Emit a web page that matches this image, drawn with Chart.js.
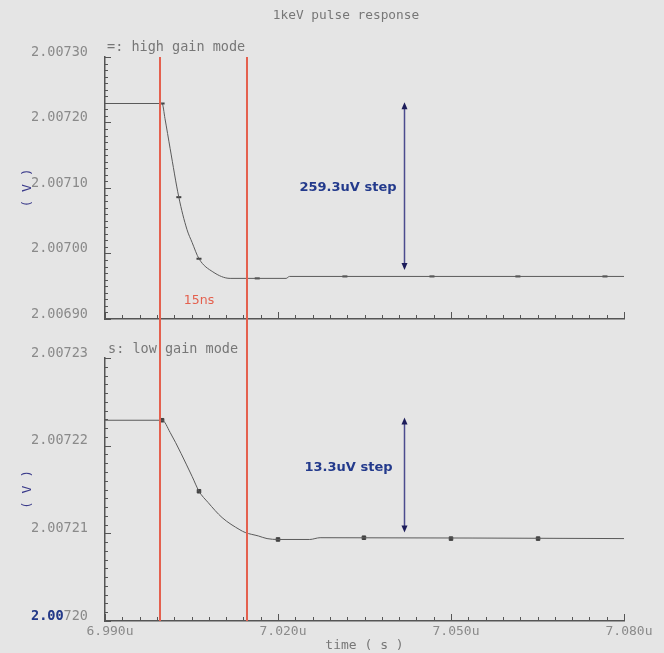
<!DOCTYPE html>
<html>
<head>
<meta charset="utf-8">
<script src="https://cdn.jsdelivr.net/npm/chart.js@4.4.1/dist/chart.umd.min.js"></script>
<style>
  html, body { margin: 0; padding: 0; background: #e5e5e5; }
  #wrap { position: relative; width: 664px; height: 653px; overflow: hidden; }
  canvas { position: absolute; left: 0; }
  #top { top: 0; }
  #bottom { top: 338px; }
</style>
</head>
<body>
<div id="wrap">
  <canvas id="top" width="664" height="338"></canvas>
  <canvas id="bottom" width="664" height="315"></canvas>
</div>
<script>
// time axis in ns
const timeMin = 6990;
const timeMax = 7080;
const timeLabels = [6990, 7020, 7050, 7080];

// high gain mode trace
const highTimes = [6990, 6999.9, 7000.4, 7001.3, 7002.8, 7004.2, 7005.1, 7006.3, 7008.7, 7011.7, 7021.4, 7022.0, 7080];
const highVolts = [2.007229, 2.007229, 2.007206, 2.007160, 2.007086, 2.007037, 2.007017, 2.006992, 2.006972, 2.006962, 2.006962, 2.006965, 2.006965];
const highMarkTimes = [6999.9, 7002.8, 7006.3, 7016.4, 7031.6, 7046.7, 7061.6, 7076.7];
const highMarkVolts = [2.007229, 2.007086, 2.006992, 2.006962, 2.006965, 2.006965, 2.006965, 2.006965];

// low gain mode trace
const lowTimes = [6990, 6999.9, 7001.3, 7005.1, 7006.3, 7007.9, 7010.3, 7013.4, 7014.3, 7016.6, 7018.1, 7020.0, 7025.5, 7027.3, 7080];
const lowVolts = [2.0072229, 2.0072229, 2.0072215, 2.0072165, 2.0072148, 2.0072135, 2.0072118, 2.0072104, 2.0072101, 2.0072097, 2.0072094, 2.0072093, 2.0072093, 2.0072095, 2.0072094];
const lowMarkTimes = [6999.9, 7006.3, 7020.0, 7034.9, 7050.0, 7065.1];
const lowMarkVolts = [2.0072229, 2.0072148, 2.0072093, 2.0072095, 2.0072094, 2.0072094];

// cursors and step annotations
const cursorTimes = [6999.6, 7014.6];
const stepTime = 7041.8;
const highStep = [2.006975, 2.007231];
const lowStep = [2.0072101, 2.0072232];

const MONO = 'DejaVu Sans Mono';
const GREY = '#8a8a8a';
const AXIS = '#555';
const NAVY = '#233a8c';
const RED = '#e4604e';

const toXY = (xs, ys) => xs.map((t, i) => ({ x: t, y: ys[i] }));

function arrowHead(ctx, x, y, dir) {
    ctx.beginPath();
    ctx.moveTo(x, y);
    ctx.lineTo(x - 3, y - dir * 7);
    ctx.lineTo(x + 3, y - dir * 7);
    ctx.closePath();
    ctx.fill();
}

const decor = {
    id: 'decor',
    afterDatasetsDraw(chart, args, cfg) {
        const { ctx, chartArea } = chart;
        const x = chart.scales.x, y = chart.scales.y;
        ctx.save();

        // inward tick marks
        ctx.strokeStyle = AXIS;
        ctx.lineWidth = 1;
        ctx.beginPath();
        const nx = Math.round((timeMax - timeMin) / 3);
        for (let i = 0; i <= nx; i++) {
            const px = Math.round(x.getPixelForValue(timeMin + i * 3)) + 0.5;
            const len = i % 10 === 0 ? 7 : 4;
            ctx.moveTo(px, chartArea.bottom);
            ctx.lineTo(px, chartArea.bottom - len);
        }
        const ny = Math.round((y.max - y.min) / cfg.yMinor);
        for (let i = 0; i <= ny; i++) {
            const py = Math.round(y.getPixelForValue(y.min + i * cfg.yMinor)) + 0.5;
            const len = i % 10 === 0 ? 6 : 3;
            ctx.moveTo(chartArea.left, py);
            ctx.lineTo(chartArea.left + len, py);
        }
        ctx.stroke();

        // red cursors
        ctx.strokeStyle = RED;
        ctx.lineWidth = 2;
        cursorTimes.forEach(t => {
            const px = Math.round(x.getPixelForValue(t));
            ctx.beginPath();
            if (cfg.cursorDown) {
                ctx.moveTo(px, chartArea.top);
                ctx.lineTo(px, chart.height);
            } else {
                ctx.moveTo(px, 0);
                ctx.lineTo(px, chartArea.bottom);
            }
            ctx.stroke();
        });

        // step arrow
        const ax = Math.round(x.getPixelForValue(stepTime)) + 0.5;
        const y0 = y.getPixelForValue(cfg.step[0]);
        const y1 = y.getPixelForValue(cfg.step[1]);
        ctx.strokeStyle = '#4b4b8e';
        ctx.fillStyle = '#1c1c5a';
        ctx.lineWidth = 1.5;
        ctx.beginPath();
        ctx.moveTo(ax, y0 - 4);
        ctx.lineTo(ax, y1 + 4);
        ctx.stroke();
        arrowHead(ctx, ax, y0, 1);
        arrowHead(ctx, ax, y1, -1);

        ctx.fillStyle = NAVY;
        ctx.font = 'bold 13px "DejaVu Sans"';
        ctx.textAlign = 'right';
        ctx.textBaseline = 'middle';
        ctx.fillText(cfg.stepText, ax - cfg.stepTextGap, (y0 + y1) / 2 + cfg.stepTextDy);

        // free texts
        cfg.texts.forEach(tx => {
            ctx.fillStyle = tx.color;
            ctx.font = tx.font;
            ctx.textAlign = tx.align || 'left';
            ctx.fillText(tx.text, tx.x, tx.y);
        });

        // blue overprint on the lowest tick label
        if (cfg.overprint) {
            ctx.font = '13.5px "' + MONO + '"';
            const left = y.right - 17 - ctx.measureText(y.min.toFixed(5)).width;
            ctx.font = 'bold 13.5px "' + MONO + '"';
            ctx.fillStyle = NAVY;
            ctx.textAlign = 'left';
            ctx.fillText(cfg.overprint, left, y.getPixelForValue(y.min) - 5);
        }
        ctx.restore();
    }
};

function makeChart(id, opts) {
    const xTitle = opts.xTitle;
    return new Chart(document.getElementById(id), {
        type: 'line',
        data: {
            datasets: [
                {
                    data: toXY(opts.times, opts.volts),
                    borderColor: '#5a5a5a',
                    borderWidth: 1,
                    pointRadius: 0,
                    cubicInterpolationMode: 'monotone'
                },
                {
                    data: toXY(opts.markTimes, opts.markVolts),
                    showLine: false,
                    pointStyle: opts.markStyle,
                    pointRadius: 2.5,
                    borderWidth: opts.markStyle === 'line' ? 2 : 1,
                    borderColor: '#404040',
                    backgroundColor: '#404040'
                }
            ]
        },
        options: {
            responsive: false,
            devicePixelRatio: 1,
            animation: false,
            layout: { padding: { top: opts.padTop, right: 40, left: 0, bottom: 0 } },
            plugins: {
                legend: { display: false },
                tooltip: { enabled: false },
                decor: opts.decor
            },
            scales: {
                x: {
                    type: 'linear',
                    min: timeMin,
                    max: timeMax,
                    afterFit: s => {
                        s.height = opts.xHeight;
                        s.paddingLeft = 0;
                        s.paddingRight = 0;
                    },
                    grid: { display: false, drawTicks: false },
                    border: { display: true, color: AXIS, width: 1.5 },
                    afterBuildTicks: s => { s.ticks = timeLabels.map(v => ({ value: v })); },
                    ticks: {
                        display: opts.showXLabels,
                        autoSkip: false,
                        maxRotation: 0,
                        padding: 3,
                        labelOffset: 5,
                        color: GREY,
                        font: { family: MONO, size: 13 },
                        callback: v => (v / 1000).toFixed(3) + 'u'
                    },
                    title: {
                        display: !!xTitle,
                        text: xTitle || '',
                        color: '#777',
                        font: { family: MONO, size: 13 },
                        padding: { top: 0, bottom: 0 }
                    }
                },
                y: {
                    min: opts.yMin,
                    max: opts.yMax,
                    afterFit: s => {
                        s.width = 105;
                        s.paddingTop = 0;
                        s.paddingBottom = 0;
                    },
                    grid: { display: false, drawTicks: false },
                    border: { display: true, color: AXIS, width: 1.5 },
                    ticks: {
                        stepSize: opts.yStep,
                        padding: 17,
                        labelOffset: -5,
                        color: GREY,
                        font: { family: MONO, size: 13.5 },
                        callback: v => v.toFixed(5)
                    },
                    title: {
                        display: true,
                        text: '( V )',
                        color: '#3a3a8a',
                        font: { family: MONO, size: 13 },
                        padding: { top: 20, bottom: 0 }
                    }
                }
            }
        },
        plugins: [decor]
    });
}

makeChart('top', {
    times: highTimes, volts: highVolts,
    markTimes: highMarkTimes, markVolts: highMarkVolts, markStyle: 'line',
    yMin: 2.0069, yMax: 2.0073, yStep: 0.0001,
    padTop: 57, xHeight: 19, showXLabels: false,
    decor: {
        yMinor: 0.00001,
        cursorDown: true,
        step: highStep,
        stepText: '259.3uV step',
        stepTextGap: 8,
        stepTextDy: 2,
        texts: [
            { text: '1keV pulse response', x: 346, y: 16, align: 'center', color: '#777', font: '12.8px "' + MONO + '"' },
            { text: '=: high gain mode', x: 107, y: 47, color: '#777', font: '13.5px "' + MONO + '"' },
            { text: '15ns', x: 199, y: 301, align: 'center', color: RED, font: '12.5px "DejaVu Sans"' }
        ]
    }
});

makeChart('bottom', {
    times: lowTimes, volts: lowVolts,
    markTimes: lowMarkTimes, markVolts: lowMarkVolts, markStyle: 'rect',
    yMin: 2.0072, yMax: 2.00723, yStep: 0.00001,
    padTop: 20, xHeight: 32, showXLabels: true,
    xTitle: 'time ( s )',
    decor: {
        yMinor: 0.000001,
        cursorDown: false,
        step: lowStep,
        stepText: '13.3uV step',
        stepTextGap: 12,
        stepTextDy: -7,
        overprint: '2.00',
        texts: [
            { text: 's: low gain mode', x: 108, y: 11, color: '#777', font: '13.5px "' + MONO + '"' }
        ]
    }
});
</script>
</body>
</html>
